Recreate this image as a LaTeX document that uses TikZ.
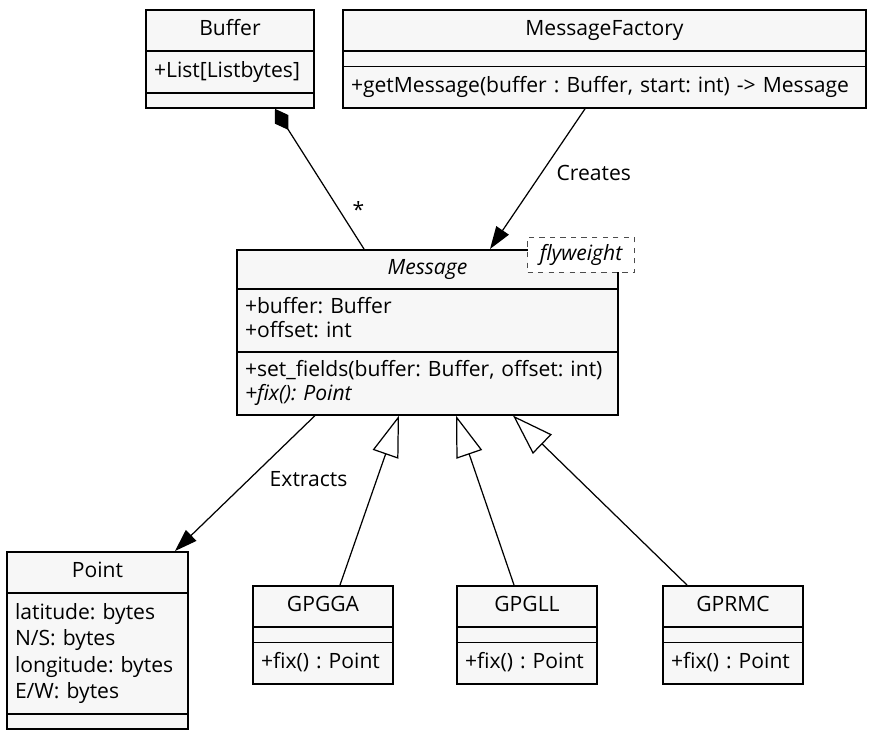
\documentclass[tikz,border=0pt]{standalone}
\usepackage{fontspec}
\setmainfont{Open Sans}
\usepackage{xcolor}
\usepackage{tikz}
\usetikzlibrary{shapes.multipart,arrows.meta}
\definecolor{boxfill}{RGB}{247,247,247}
\setlength{\parindent}{0pt}
\frenchspacing
\newcommand{\classtitle}[1]{\hbox to \hsize{\hfil\strut #1\hfil}}

\begin{document}
\begin{tikzpicture}[
        class/.style = {rectangle split, rectangle split parts=3, draw, line width=1pt,
            fill=boxfill, anchor=north, align=left, inner xsep=0.16cm, inner ysep=3.8pt,
            font=\fontsize{12}{15}\selectfont},
        link/.style = {line width=0.7pt, font=\fontsize{12}{15}\selectfont},
        note/.style = {draw=black!70, dashed, fill=white, inner sep=1pt,
            minimum width=2.14cm, minimum height=0.7cm,
            font=\fontsize{12}{15}\selectfont\itshape}]

        \useasboundingbox (0,0) rectangle (17.5,-14.68);

        % Buffer
        \node[class, text width=3.04cm] (Buffer) at (4.6,-0.18)
            {\classtitle{Buffer}
             \nodepart{two}\strut+List[Listbytes]
             \nodepart{three}};

        % Message factory
        \node[class, text width=10.3cm, inner xsep=0.08cm] (MessageFactory) at (12.09,-0.18)
            {\classtitle{MessageFactory}
             \nodepart{two}
             \nodepart{three}\strut\hspace{0.08cm}+getMessage(buffer : Buffer, start: int) -> Message};

        % Message
        \node[class, text width=7.30cm, font=\fontsize{12}{13.6}\selectfont] (Message) at (8.55,-4.98)
            {\classtitle{\textit{Message}}
             \nodepart{two}\strut+buffer: Buffer\\\strut+offset: int
             \nodepart{three}\strut+set\_fields(buffer: Buffer, offset: int)\\\strut\textit{+fix(): Point}};

        % Flyweight note
        \node[note, anchor=north east] (Flyweight) at ([xshift=0.32cm,yshift=0.24cm]Message.north east) {flyweight};

        % Point
        \node[class, text width=3.30cm] (Point) at (1.95,-11.02)
            {\classtitle{Point}
             \nodepart{two}\strut latitude: bytes\\\strut N/S: bytes\\\strut longitude: bytes\\\strut E/W: bytes
             \nodepart{three}};

        % Sentences
        \node[class, text width=2.48cm] (GPGGA) at (6.46,-11.7)
            {\classtitle{GPGGA}
             \nodepart{two}
             \nodepart{three}\strut+fix() : Point};
        \node[class, text width=2.48cm] (GPGLL) at (10.54,-11.7)
            {\classtitle{GPGLL}
             \nodepart{two}
             \nodepart{three}\strut+fix() : Point};
        \node[class, text width=2.48cm] (GPRMC) at (14.66,-11.7)
            {\classtitle{GPRMC}
             \nodepart{two}
             \nodepart{three}\strut+fix() : Point};

        % Composition
        \draw[link, {Diamond[length=0.5cm, width=0.32cm]}-]
            ([xshift=0.9cm]Buffer.south) -- node[pos=0.72, right=4pt] {*} ([xshift=-1.27cm]Message.north);

        % Creates
        \draw[link, -{Triangle[length=0.45cm, width=0.3cm]}]
            ([xshift=-0.39cm]MessageFactory.south) -- node[pos=0.46, right=5pt] {Creates} ([xshift=1.25cm]Message.north);

        % Extracts
        \draw[link, -{Triangle[length=0.45cm, width=0.3cm]}]
            ([xshift=-2.25cm]Message.south) -- node[pos=0.47, right=8pt] {Extracts} ([xshift=1.55cm]Point.north);

        % Generalization
        \draw[link, -{Triangle[open, length=0.82cm, width=0.54cm, fill=white]}]
            ([xshift=0.34cm]GPGGA.north) -- ([xshift=-0.57cm]Message.south);
        \draw[link, -{Triangle[open, length=0.82cm, width=0.54cm, fill=white]}]
            ([xshift=-0.26cm]GPGLL.north) -- ([xshift=0.57cm]Message.south);
        \draw[link, -{Triangle[open, length=0.82cm, width=0.54cm, fill=white]}]
            ([xshift=-0.92cm]GPRMC.north) -- ([xshift=1.71cm]Message.south);

    \end{tikzpicture}
\end{document}
